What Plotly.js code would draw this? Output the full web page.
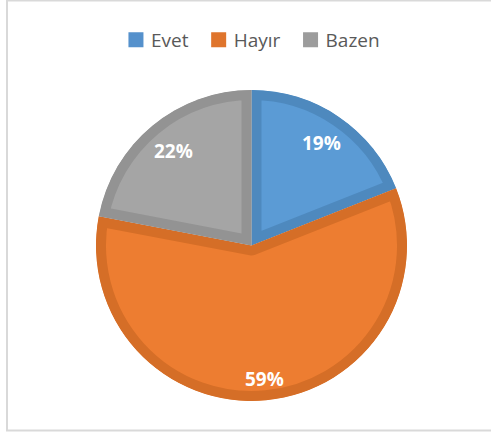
<!DOCTYPE html>
<html>
<head>
<meta charset="utf-8">
<script src="https://cdn.plot.ly/plotly-3.0.1.min.js"></script>
<style>
html,body{margin:0;padding:0;background:#fff;}
#chart{width:491px;height:432px;}
</style>
</head>
<body>
<div id="chart"></div>
<script>
const categories = ["Evet", "Hayır", "Bazen"];
const values = [19, 59, 22];
const fillColors = ["#5B9BD5", "#ED7D31", "#A5A5A5"];
const edgeColors = ["#4E89BE", "#D56E27", "#939393"];
const legendColors = ["#5591CC", "#DF752D", "#9C9C9C"];

// pie geometry in pixels (used for domain and label placement)
const W = 491, H = 432;
const CX = 251.5, CY = 245.5, R = 155.5;
const labelRadius = [0.80, 0.86, 0.79];

const trace = {
  type: "pie",
  labels: categories,
  values: values,
  sort: false,
  direction: "clockwise",
  rotation: 0,
  marker: {colors: fillColors, line: {color: edgeColors, width: 20}},
  textinfo: "none",
  hoverinfo: "none",
  domain: {x: [(CX - R)/W, (CX + R)/W], y: [(H - CY - R)/H, (H - CY + R)/H]}
};

// percent labels placed at each slice's mid angle
const total = values.reduce((a, b) => a + b, 0);
let cum = 0;
const annotations = values.map(function(v, i){
  const mid = (cum + v/2) / total * 2 * Math.PI;
  cum += v;
  const px = CX + labelRadius[i] * R * Math.sin(mid);
  const py = CY - labelRadius[i] * R * Math.cos(mid);
  return {
    xref: "paper", yref: "paper", x: px / W, y: 1 - py / H,
    xanchor: "center", yanchor: "middle", showarrow: false,
    text: "<b>" + Math.round(v / total * 100) + "%</b>",
    font: {family: "Open Sans, sans-serif", size: 19, color: "#ffffff"}
  };
});

const layout = {
  width: W, height: H,
  margin: {l: 0, r: 0, t: 0, b: 0},
  paper_bgcolor: "#ffffff",
  showlegend: true,
  legend: {
    orientation: "h", x: 0.505, xanchor: "center", y: 1 - 40/432, yanchor: "middle",
    font: {family: "Open Sans, sans-serif", size: 19, color: "#595959"},
    itemclick: false, itemdoubleclick: false
  },
  annotations: annotations,
  shapes: [{
    type: "rect", xref: "paper", yref: "paper",
    x0: 7/491, x1: 1.02, y0: 1.5/432, y1: 1 - 0.5/432,
    line: {color: "#D9D9D9", width: 2}, fillcolor: "rgba(0,0,0,0)"
  }]
};

Plotly.newPlot("chart", [trace], layout, {staticPlot: true}).then(function(gd){
  // keep each slice's edge inside its own slice (inner border)
  const svg = gd.querySelector("svg.main-svg");
  const ns = "http://www.w3.org/2000/svg";
  let defs = svg.querySelector("defs");
  gd.querySelectorAll("g.slice path.surface").forEach(function(p, i){
    const cp = document.createElementNS(ns, "clipPath");
    cp.setAttribute("id", "sliceclip" + i);
    const cpPath = document.createElementNS(ns, "path");
    cpPath.setAttribute("d", p.getAttribute("d"));
    const tr = p.getAttribute("transform");
    if (tr) cpPath.setAttribute("transform", tr);
    cp.appendChild(cpPath);
    defs.appendChild(cp);
    p.setAttribute("clip-path", "url(#sliceclip" + i + ")");
    p.style.strokeWidth = "20px";
  });
  // solid legend squares, closer to their text
  gd.querySelectorAll("g.legend g.traces").forEach(function(g, i){
    g.querySelectorAll("path.legendpie").forEach(function(p){
      p.style.fill = legendColors[i];
      p.style.stroke = legendColors[i];
      p.style.strokeWidth = "3px";
    });
    const lp = g.querySelector("g.legendpoints");
    if (lp) lp.setAttribute("transform", "translate(5,0)");
  });
});
</script>
</body>
</html>
